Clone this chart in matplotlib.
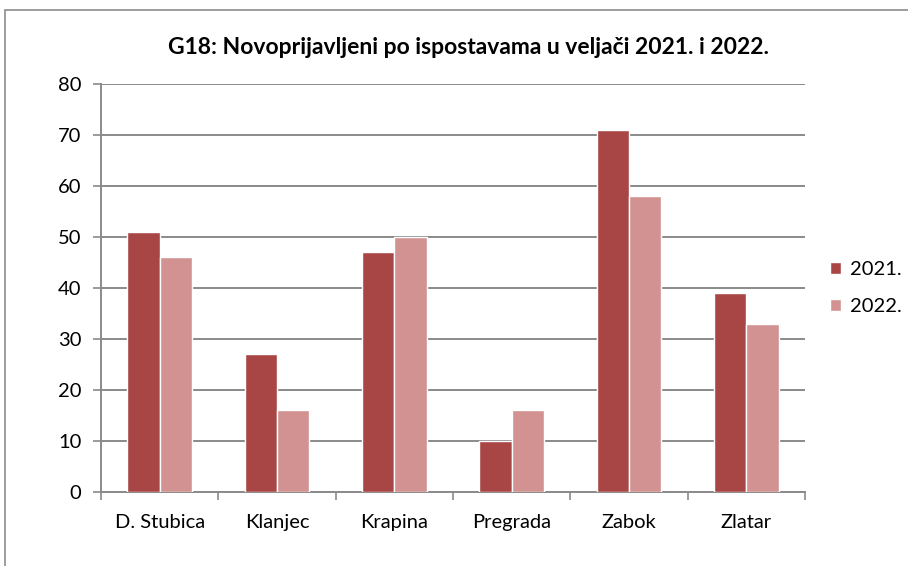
import matplotlib.pyplot as plt
import numpy as np
from matplotlib.patches import Rectangle

plt.rcParams['font.family'] = ['Lato', 'DejaVu Sans']

categories = ["D. Stubica", "Klanjec", "Krapina", "Pregrada", "Zabok", "Zlatar"]
v2021 = [51, 27, 47, 10, 71, 39]
v2022 = [46, 16, 50, 16, 58, 33]
yticks = [0, 10, 20, 30, 40, 50, 60, 70, 80]

fig = plt.figure(figsize=(9.08, 5.66), dpi=100)
ax = fig.add_axes([0.1112, 0.1307, 0.7753, 0.7208])

# outer chart frame
fig.patches.append(Rectangle((5 / 908, -0.01), 1.0, 1 - 10 / 566 + 0.01,
                             transform=fig.transFigure, fill=False,
                             edgecolor='#8c8c8c', linewidth=1.2))

x = np.arange(len(categories))
w = 0.275
ax.bar(x - w / 2, v2021, w, color='#a84646', edgecolor='white', linewidth=1, label='2021.', zorder=3)
ax.bar(x + w / 2, v2022, w, color='#d29292', edgecolor='white', linewidth=1, label='2022.', zorder=3)

ax.set_xlim(-0.5, len(categories) - 0.5)
ax.set_ylim(0, 80)
ax.set_yticks(yticks)
ax.yaxis.grid(True, color='#8a8a8a', linewidth=1.4, zorder=0)
ax.set_axisbelow(True)

ax.set_xticks(x)
ax.set_xticklabels(categories)
ax.set_xticks(np.arange(-0.5, len(categories)), minor=True)
ax.tick_params(axis='x', which='major', length=0, pad=16, labelsize=14.5)
ax.tick_params(axis='x', which='minor', length=6, width=1.2, color='#8a8a8a', direction='out')
ax.tick_params(axis='y', length=6, width=1.2, color='#8a8a8a', labelsize=14.5, pad=8)

for s in ['top', 'right']:
    ax.spines[s].set_visible(False)
for s in ['left', 'bottom']:
    ax.spines[s].set_color('#8a8a8a')
    ax.spines[s].set_linewidth(1.4)

fig.text(468 / 908, 1 - 48 / 566, "G18: Novoprijavljeni po ispostavama u veljači 2021. i 2022.",
         ha='center', va='center', fontsize=16.5, fontweight='bold')

ax.legend(loc='center left', bbox_to_anchor=(1.01, 0.5), frameon=False, fontsize=14.5,
          handlelength=0.55, handleheight=0.55, handletextpad=0.45, labelspacing=1.0)

plt.savefig("out.png", dpi=100)
